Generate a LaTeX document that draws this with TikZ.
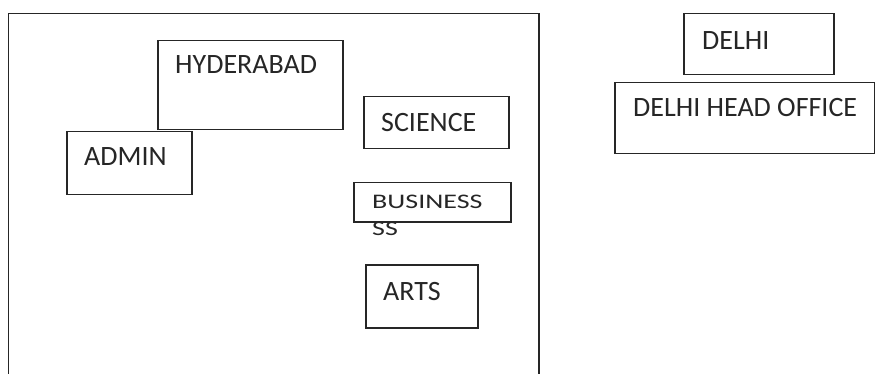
\documentclass[tikz,border=0pt]{standalone}
\usepackage{fontspec}
\setmainfont{Carlito}
\begin{document}
\begin{tikzpicture}[x=1pt,y=-1pt,
  box/.style={draw=black!85,line width=1.5pt,rectangle,inner sep=0pt,anchor=north west},
  lbl/.style={anchor=base west,inner sep=0pt,font=\fontsize{28}{32}\selectfont,text=black!85}]
\useasboundingbox (0,0) rectangle (875,374);
% outer frame, open at the bottom
\coordinate (o1) at (8.5,380);
\coordinate (o2) at (8.5,13.5);
\coordinate (o3) at (539,13.5);
\coordinate (o4) at (539,380);
\draw[draw=black!85,line width=1.5pt] (o1) -- (o2) -- (o3) -- (o4);
% boxes
\node[box,minimum width=185,minimum height=89] (hyd) at (157,40) {};
\node[box,minimum width=125,minimum height=63] (admin) at (66,131) {};
\node[box,minimum width=145,minimum height=52] (sci) at (363,96) {};
\node[box,minimum width=157,minimum height=39] (bus) at (353,182) {};
\node[box,minimum width=112,minimum height=63] (arts) at (365,264) {};
\node[box,minimum width=150,minimum height=61] (delhi) at (683,13) {};
\node[box,minimum width=260,minimum height=71] (dho) at (614,82) {};
% texts
\node[lbl] (thyd) at (175,74) {HYDERABAD};
\node[lbl] (tadmin) at (84,166) {ADMIN};
\node[lbl] (tsci) at (381,132) {SCIENCE};
\node[lbl] (tbus) at (372,208) {\scalebox{1}[0.74]{BUSINESS}};
\node[lbl] (tss) at (372,235) {\scalebox{1}[0.74]{SS}};
\node[lbl] (tarts) at (383,300) {ARTS};
\node[lbl] (tdelhi) at (702,50) {DELHI};
\node[lbl] (tdho) at (633,117) {DELHI HEAD OFFICE};
\end{tikzpicture}
\end{document}
